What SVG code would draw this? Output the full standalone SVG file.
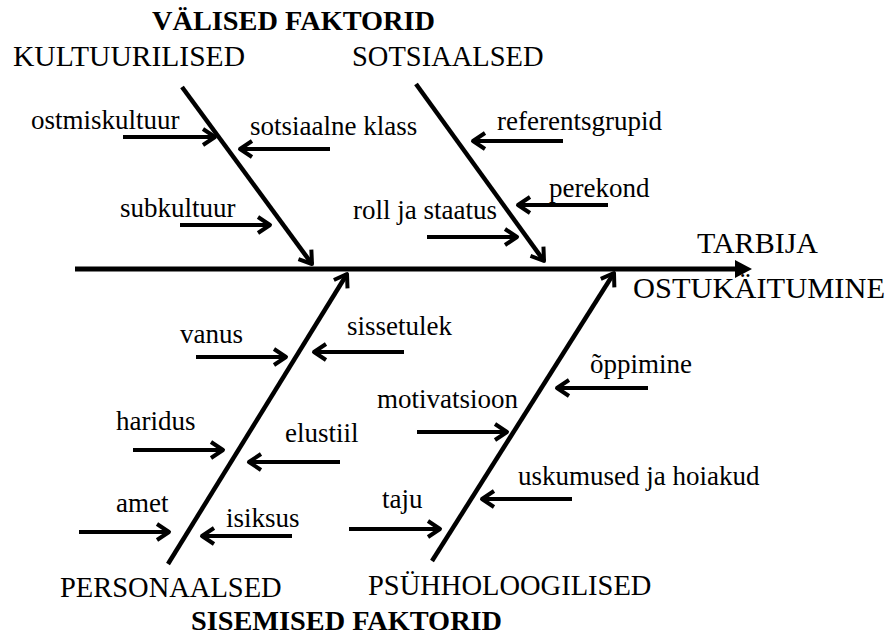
<svg xmlns="http://www.w3.org/2000/svg" width="894" height="638" viewBox="0 0 894 638">
<style>
text{font-family:"Liberation Serif","DejaVu Serif",serif;fill:#000}
.lbl{font-size:27px}
.cap{font-size:28.5px}
.ttl{font-size:28px;font-weight:bold}
.main{stroke:#000;stroke-width:5;fill:none}
.bone{stroke:#000;stroke-width:4.5;fill:none;marker-end:url(#chev)}
.arr{stroke:#000;stroke-width:4;fill:none;marker-end:url(#chev)}
</style>
<defs>
<marker id="chev" markerUnits="userSpaceOnUse" orient="auto" refX="0" refY="0" markerWidth="30" markerHeight="30" overflow="visible">
<path d="M-12,-8 L0,0 L-12,8" fill="none" stroke="#000" stroke-width="4" stroke-linejoin="round" stroke-linecap="butt"/>
</marker>
</defs>
<rect width="894" height="638" fill="#fff"/>
<g id="connectors">
<line class="main" x1="75" y1="269" x2="738" y2="269"/>
<polygon points="735,260 752,269 735,278" fill="#000"/>
<line class="bone" x1="182" y1="87" x2="312" y2="264"/>
<line class="bone" x1="416" y1="84" x2="544" y2="261"/>
<line class="bone" x1="168" y1="564" x2="347" y2="274"/>
<line class="bone" x1="432" y1="561" x2="614" y2="273"/>
<line class="arr" x1="123" y1="137" x2="215" y2="137"/>
<line class="arr" x1="330" y1="149" x2="240" y2="149"/>
<line class="arr" x1="180" y1="225" x2="270" y2="225"/>
<line class="arr" x1="563" y1="141" x2="473" y2="141"/>
<line class="arr" x1="608" y1="205" x2="518" y2="205"/>
<line class="arr" x1="427" y1="237" x2="517" y2="237"/>
<line class="arr" x1="196" y1="357" x2="286" y2="357"/>
<line class="arr" x1="404" y1="352" x2="314" y2="352"/>
<line class="arr" x1="133" y1="450" x2="223" y2="450"/>
<line class="arr" x1="340" y1="462" x2="249" y2="462"/>
<line class="arr" x1="79" y1="532" x2="169" y2="532"/>
<line class="arr" x1="292" y1="536" x2="202" y2="536"/>
<line class="arr" x1="648" y1="388" x2="557" y2="388"/>
<line class="arr" x1="417" y1="432" x2="507" y2="432"/>
<line class="arr" x1="572" y1="499" x2="482" y2="499"/>
<line class="arr" x1="349" y1="529" x2="440" y2="529"/>
</g>
<g id="titles">
<text class="ttl" x="152" y="30" textLength="283" lengthAdjust="spacingAndGlyphs">VÄLISED FAKTORID</text>
<text class="ttl" x="191" y="630" textLength="311" lengthAdjust="spacingAndGlyphs">SISEMISED FAKTORID</text>
</g>
<g id="effect"><text class="cap" x="697" y="253" textLength="121" lengthAdjust="spacingAndGlyphs">TARBIJA</text><text class="cap" x="633" y="298" textLength="252" lengthAdjust="spacingAndGlyphs">OSTUKÄITUMINE</text></g>
<g id="kultuurilised"><text class="cap" x="13" y="66" textLength="232" lengthAdjust="spacingAndGlyphs">KULTUURILISED</text></g>
<g id="sotsiaalsed"><text class="cap" x="352" y="66">SOTSIAALSED</text></g>
<g id="personaalsed"><text class="cap" x="60" y="597">PERSONAALSED</text></g>
<g id="psyhholoogilised"><text class="cap" x="368" y="595">PSÜHHOLOOGILISED</text></g>
<g id="ostmiskultuur"><text class="lbl" x="31" y="129">ostmiskultuur</text></g>
<g id="sotsiaalne-klass"><text class="lbl" x="250" y="135">sotsiaalne klass</text></g>
<g id="subkultuur"><text class="lbl" x="120" y="217">subkultuur</text></g>
<g id="referentsgrupid"><text class="lbl" x="497" y="130">referentsgrupid</text></g>
<g id="perekond"><text class="lbl" x="549" y="197">perekond</text></g>
<g id="roll-ja-staatus"><text class="lbl" x="353" y="219">roll ja staatus</text></g>
<g id="vanus"><text class="lbl" x="180" y="343">vanus</text></g>
<g id="sissetulek"><text class="lbl" x="347" y="335">sissetulek</text></g>
<g id="haridus"><text class="lbl" x="116" y="430">haridus</text></g>
<g id="elustiil"><text class="lbl" x="285" y="442">elustiil</text></g>
<g id="amet"><text class="lbl" x="116" y="512">amet</text></g>
<g id="isiksus"><text class="lbl" x="226" y="527">isiksus</text></g>
<g id="oppimine"><text class="lbl" x="590" y="373">õppimine</text></g>
<g id="motivatsioon"><text class="lbl" x="377" y="408">motivatsioon</text></g>
<g id="uskumused"><text class="lbl" x="518" y="485">uskumused ja hoiakud</text></g>
<g id="taju"><text class="lbl" x="382" y="508">taju</text></g>
</svg>
